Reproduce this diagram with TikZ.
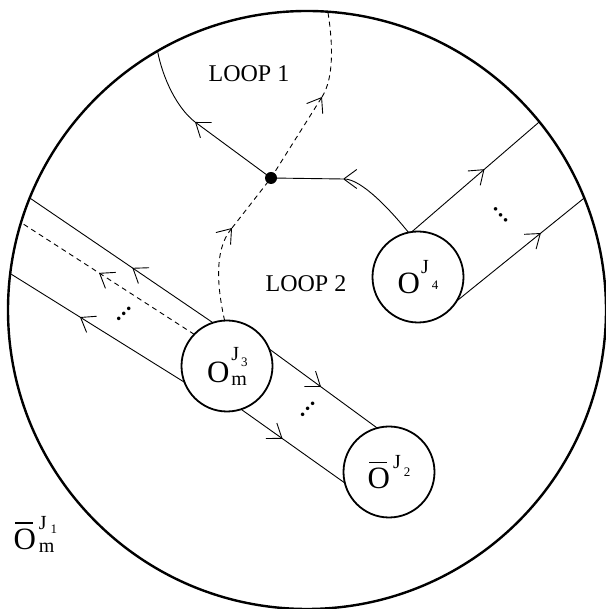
\documentclass[tikz,border=0pt]{standalone}
\usepackage{fontspec}
\setmainfont{Liberation Serif}
\usetikzlibrary{arrows.meta,decorations.markings}

\newcommand{\bigO}{{\fontsize{31}{31}\selectfont O}}
\newcommand{\barO}{\makebox[0pt][l]{\hspace{1.8pt}\rule[25pt]{18pt}{1.6pt}}\bigO}
\newcommand{\supJ}[1]{\raisebox{#1}{\fontsize{20}{20}\selectfont J}}
\newcommand{\subdig}[2]{\raisebox{#1}{\fontsize{13}{13}\selectfont #2}}
\newcommand{\subm}{\raisebox{-3pt}{\fontsize{20}{20}\selectfont m}}

\begin{document}
\begin{tikzpicture}[x=1pt, y=1pt, line width=0.9pt,
    barb/.tip={Straight Barb[length=13pt, width=19pt]},
    flow/.style={postaction={decorate}, decoration={markings, mark=at position #1 with {\arrow{barb}}}}]
    \tikzstyle{op node} = [circle, draw, line width=1.8pt, minimum size=91pt, inner sep=0pt, outer sep=0pt]
    \tikzstyle{dash line} = [dash pattern=on 5pt off 4pt]
    \tikzstyle{dots} = [font=\fontsize{30}{30}\selectfont, inner sep=0pt]
    \useasboundingbox (0,0) rectangle (605,609);
    \node[circle, draw, line width=2.4pt, minimum size=598pt, inner sep=0pt, outer sep=0pt] (outer) at (307,299) {};
    \node[op node] (m3) at (227,243) {\bigO\kern2pt\makebox[0pt][l]{\supJ{22pt}\kern2pt\subdig{16pt}{3}}\subm};
    \node[op node] (o4) at (418,332) {\bigO\kern1pt\supJ{20pt}\kern3pt\subdig{4pt}{4}};
    \node[op node] (o2) at (389,137) {\barO\kern3pt\supJ{20pt}\kern3pt\subdig{12pt}{2}};
    \node[circle, fill, minimum size=12pt, inner sep=0pt] (vert) at (271,431) {};
    \node (j1) at (34,75) {\barO\kern3pt\makebox[0pt][l]{\supJ{20pt}\kern4pt\subdig{16pt}{1}}\subm};
    \node[font=\fontsize{24}{24}\selectfont] (loop1) at (249,535) {LOOP 1};
    \node[font=\fontsize{24}{24}\selectfont] (loop2) at (306,325) {LOOP 2};

    \draw[flow=0.44] (m3.108) -- (outer.158);
    \draw[dash line, flow=0.55] (m3.136) -- (outer.163);
    \draw[flow=0.6] (m3.201) -- (outer.173);
    \node[dots, rotate=45] (dotsL) at (124,295) {...};

    \draw[flow=0.48] (m3.22) -- (o2.105);
    \draw[flow=0.4] (m3.288) -- (o2.194);
    \node[dots, rotate=47] (dotsB) at (308,200) {...};

    \draw[flow=0.57] (o4.98) -- (outer.39);
    \draw[flow=0.66] (o4.328) -- (outer.22);
    \node[dots, rotate=-47] (dotsR) at (501,394) {...};

    \coordinate (a1) at (232,381);
    \coordinate (a2) at (322,512);
    \coordinate (a3) at (195,487);
    \coordinate (a4) at (343,430);
    \draw[dash line, -barb] (m3.93) .. controls (218,318) and (213,358) .. (a1);
    \draw[dash line, -barb] (a1) -- (vert.center) -- (a2);
    \draw[dash line] (a2) .. controls (334,531) and (333,565) .. (outer.86);
    \draw[-barb] (o4.102) .. controls (392,397) and (362,430) .. (a4);
    \draw (a4) -- (vert.center);
    \draw[-barb] (vert.center) -- (a3);
    \draw (a3) .. controls (177,501) and (163,530) .. (outer.120);
\end{tikzpicture}
\end{document}
